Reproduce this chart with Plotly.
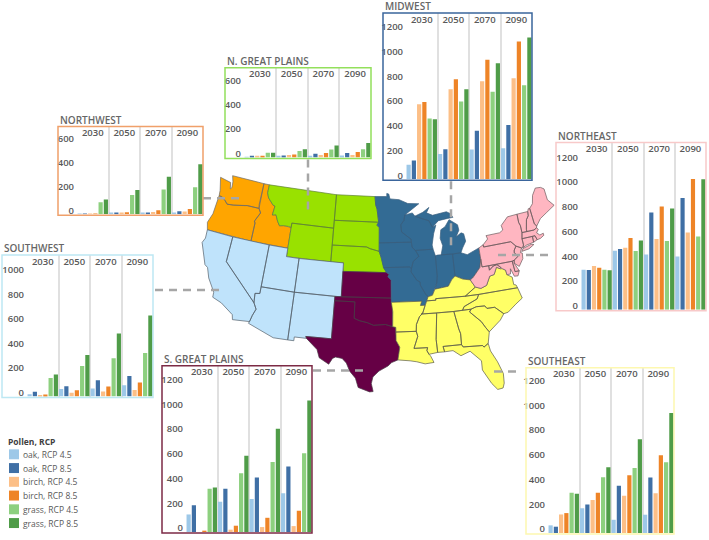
import math

import plotly.graph_objects as go

W, H = 709, 540

years = ["2030", "2050", "2070", "2090"]
series_names = ["oak, RCP 4.5", "oak, RCP 8.5", "birch, RCP 4.5", "birch, RCP 8.5", "grass, RCP 4.5", "grass, RCP 8.5"]
series_colors = ["#9dc8e8", "#3f6fa5", "#fcbf87", "#ee8427", "#8dd07f", "#4f9c48"]

# one row per series, one column per year
midwest = [[118, 204, 242, 252], [153, 244, 392, 440], [606, 727, 792, 816],
           [625, 808, 966, 1114], [491, 628, 708, 760], [486, 727, 939, 1146]]
n_great_plains = [[3, 11, 14, 16], [11, 16, 30, 36], [8, 19, 19, 19],
                  [11, 25, 36, 44], [38, 52, 66, 68], [38, 68, 99, 118]]
northwest = [[3, 6, 8, 11], [3, 8, 14, 25], [1, 14, 19, 22],
             [3, 17, 33, 44], [100, 161, 206, 225], [122, 203, 314, 417]]
southwest = [[19, 62, 65, 92], [38, 84, 133, 168], [8, 30, 41, 54],
             [16, 51, 81, 114], [152, 249, 312, 355], [179, 339, 515, 661]]
northeast = [[325, 478, 448, 432], [322, 491, 786, 904], [354, 502, 572, 625],
             [341, 580, 835, 1057], [325, 475, 556, 593], [319, 561, 819, 1055]]
s_great_plains = [[142, 244, 266, 314], [217, 349, 440, 529], [0, 19, 40, 48],
                  [8, 51, 115, 172], [349, 475, 566, 636], [360, 617, 835, 1063]]
southeast = [[62, 201, 107, 148], [51, 231, 381, 448], [150, 266, 301, 322],
             [161, 325, 467, 628], [325, 451, 526, 572], [317, 531, 757, 969]]

# title, values, frame colour, frame l/r/t/b, left edge of bars, px per unit, highest tick
panels = [
    ("MIDWEST", midwest, "#3a659c", 383, 532, 13, 181, 406, 0.1242, 1200),
    ("N. GREAT PLAINS", n_great_plains, "#93e05c", 225, 371, 68, 159, 244, 0.1217, 600),
    ("NORTHWEST", northwest, "#f0a06a", 58, 203, 127, 216, 77, 0.12, 600),
    ("SOUTHWEST", southwest, "#bde8f3", 2, 153, 256, 399, 27, 0.123, 1000),
    ("NORTHEAST", northeast, "#f8c9c9", 556, 706, 143, 312, 581, 0.1242, 1200),
    ("S. GREAT PLAINS", s_great_plains, "#7c2a45", 162, 312, 367, 535, 186, 0.1242, 1200),
    ("SOUTHEAST", southeast, "#fdf8b0", 526, 674, 369, 536, 548, 0.1242, 1200),
]

# dashed leader lines from panel to region
leaders = [
    ([308, 308], [160, 212]),
    ([203, 242], [199, 199]),
    ([155, 224], [291, 291]),
    ([313, 367], [372, 372]),
    ([451, 451], [182, 250]),
    ([498, 552], [256, 256]),
    ([494, 518], [373, 373]),
]

# state outlines, lon/lat
states = {
    "WA": [(-124.7, 48.4), (-123.1, 48.15), (-122.75, 48.15), (-122.5, 47.4), (-122.3, 47.6), (-122.4, 48.3), (-122.75, 49), (-117.03, 49), (-117.04, 46.42), (-116.92, 45.99), (-118.98, 46), (-119.3, 45.93), (-121.2, 45.65), (-122.3, 45.55), (-122.8, 45.9), (-123.4, 46.2), (-124, 46.27), (-124.1, 46.9)],
    "OR": [(-124, 46.27), (-123.4, 46.2), (-122.8, 45.9), (-122.3, 45.55), (-121.2, 45.65), (-119.3, 45.93), (-118.98, 46), (-116.92, 45.99), (-116.5, 45.5), (-117.2, 44.4), (-117.03, 44.2), (-117.03, 42), (-124.2, 42), (-124.55, 42.85), (-124.1, 44)],
    "ID": [(-117.03, 49), (-116.05, 49), (-116.05, 48), (-115.7, 47.45), (-114.7, 46.7), (-114.35, 46.65), (-114.5, 45.55), (-113.9, 45.65), (-113.45, 44.95), (-113, 44.45), (-112.3, 44.55), (-111.5, 44.55), (-111.05, 44.48), (-111.05, 42), (-117.03, 42), (-117.03, 44.2), (-117.2, 44.4), (-116.5, 45.5), (-116.92, 45.99), (-117.04, 46.42)],
    "MT": [(-116.05, 49), (-104.05, 49), (-104.05, 45), (-111.05, 45), (-111.05, 44.48), (-111.5, 44.55), (-112.3, 44.55), (-113, 44.45), (-113.45, 44.95), (-113.9, 45.65), (-114.5, 45.55), (-114.35, 46.65), (-114.7, 46.7), (-115.7, 47.45), (-116.05, 48)],
    "WY": [(-111.05, 45), (-104.05, 45), (-104.05, 41), (-111.05, 41)],
    "ND": [(-104.05, 49), (-97.23, 49), (-97.1, 48), (-96.85, 47.5), (-96.56, 45.94), (-104.05, 45.94)],
    "SD": [(-104.05, 45.94), (-96.56, 45.94), (-96.85, 45.6), (-96.45, 45.3), (-96.45, 43.5), (-96.45, 42.5), (-97.9, 42.8), (-98.5, 43), (-104.05, 43)],
    "NE": [(-104.05, 43), (-98.5, 43), (-97.9, 42.8), (-96.45, 42.5), (-96.1, 41.7), (-95.85, 41), (-95.3, 40), (-102.05, 40), (-102.05, 41), (-104.05, 41)],
    "NV": [(-120, 42), (-114.05, 42), (-114.05, 36.2), (-114.75, 36.1), (-114.63, 35), (-120, 39)],
    "CA": [(-124.2, 42), (-120, 42), (-120, 39), (-114.63, 35), (-114.15, 34.3), (-114.5, 33.5), (-114.72, 32.72), (-117.12, 32.53), (-117.3, 33.1), (-118.4, 33.75), (-119.2, 34.15), (-120.6, 34.55), (-120.65, 35.15), (-121.9, 36.6), (-122.5, 37.75), (-123, 38), (-123.8, 39.3), (-124.4, 40.4), (-124.1, 41)],
    "UT": [(-114.05, 42), (-111.05, 42), (-111.05, 41), (-109.05, 41), (-109.05, 37), (-114.05, 37)],
    "CO": [(-109.05, 41), (-102.05, 41), (-102.05, 37), (-109.05, 37)],
    "AZ": [(-114.05, 37), (-109.05, 37), (-109.05, 31.33), (-111.07, 31.33), (-114.82, 32.5), (-114.72, 32.72), (-114.5, 33.5), (-114.15, 34.3), (-114.63, 35), (-114.75, 36.1), (-114.05, 36.2)],
    "NM": [(-109.05, 37), (-103, 37), (-103.04, 32), (-106.62, 32), (-106.5, 31.78), (-108.2, 31.78), (-108.2, 31.33), (-109.05, 31.33)],
    "KS": [(-102.05, 40), (-95.3, 40), (-94.9, 39.8), (-95.1, 39.5), (-94.6, 39.1), (-94.62, 37), (-102.05, 37)],
    "OK": [(-103, 37), (-94.62, 37), (-94.43, 35.4), (-94.48, 33.64), (-95.5, 33.9), (-96.6, 33.85), (-97.2, 33.8), (-98.1, 34.1), (-99.2, 34.3), (-100, 34.56), (-100, 36.5), (-103, 36.5)],
    "TX": [(-103, 36.5), (-100, 36.5), (-100, 34.56), (-99.2, 34.3), (-98.1, 34.1), (-97.2, 33.8), (-96.6, 33.85), (-95.5, 33.9), (-94.48, 33.64), (-94.04, 33.55), (-94.04, 32), (-93.55, 31.2), (-93.7, 30.3), (-93.85, 29.7), (-94.7, 29.4), (-95.2, 29), (-96.4, 28.4), (-97.2, 27.7), (-97.4, 26.9), (-97.15, 25.95), (-97.6, 25.9), (-99.1, 26.4), (-99.5, 27.5), (-100.3, 28.3), (-100.8, 29.25), (-101.4, 29.77), (-102.3, 29.88), (-102.7, 29.7), (-103.15, 28.98), (-104.5, 29.65), (-104.9, 30.6), (-106.5, 31.78), (-106.62, 32), (-103.04, 32)],
    "MN": [(-97.23, 49), (-95.15, 49), (-95.15, 49.38), (-94.8, 49.3), (-94.6, 48.72), (-93, 48.6), (-91.5, 48.1), (-89.6, 48), (-92.1, 46.75), (-92.3, 46.1), (-92.85, 45.6), (-92.75, 44.75), (-91.25, 43.85), (-91.22, 43.5), (-96.45, 43.5), (-96.45, 45.3), (-96.85, 45.6), (-96.56, 45.94), (-96.85, 47.5), (-97.1, 48)],
    "WI": [(-92.1, 46.75), (-90.8, 46.95), (-90.4, 46.55), (-89.1, 46.15), (-88.1, 45.9), (-87.6, 45.1), (-87, 45.3), (-87.5, 44.3), (-87.9, 43), (-87.8, 42.5), (-90.64, 42.5), (-91.15, 42.9), (-91.22, 43.5), (-91.25, 43.85), (-92.75, 44.75), (-92.85, 45.6), (-92.3, 46.1)],
    "MI_U": [(-90.4, 46.55), (-89, 46.95), (-87.9, 47.47), (-88.4, 46.85), (-87.4, 46.5), (-85, 46.75), (-84.4, 46.5), (-84, 46), (-84.9, 45.95), (-86.5, 45.8), (-87.6, 45.1), (-88.1, 45.9), (-89.1, 46.15)],
    "MI_L": [(-86.6, 41.76), (-84.8, 41.7), (-83.45, 41.73), (-83.1, 42.25), (-82.45, 43), (-82.6, 43.9), (-83, 44.05), (-83.9, 43.65), (-83.3, 44.4), (-83.4, 45.05), (-84.7, 45.78), (-85.5, 45), (-86.25, 44.7), (-86.5, 43.7), (-86.2, 42.8)],
    "IA": [(-96.45, 43.5), (-91.22, 43.5), (-91.15, 42.9), (-90.64, 42.5), (-90.15, 41.8), (-91.1, 41.2), (-91.42, 40.38), (-91.73, 40.6), (-95.77, 40.58), (-95.85, 41), (-96.1, 41.7), (-96.45, 42.5)],
    "MO": [(-95.77, 40.58), (-91.73, 40.6), (-91.42, 40.38), (-91.5, 40), (-90.7, 39), (-90.2, 38.75), (-90.2, 38.4), (-89.5, 37.3), (-89.15, 36.98), (-89.4, 36.5), (-89.7, 36), (-90.37, 36), (-90.15, 36.5), (-94.62, 36.5), (-94.62, 37), (-94.6, 39.1), (-95.1, 39.5), (-94.9, 39.8), (-95.3, 40)],
    "IL": [(-90.64, 42.5), (-87.8, 42.5), (-87.53, 41.7), (-87.53, 39.3), (-87.7, 38.5), (-88.05, 37.8), (-88.5, 37.1), (-89.15, 36.98), (-89.5, 37.3), (-90.2, 38.4), (-90.2, 38.75), (-90.7, 39), (-91.5, 40), (-91.42, 40.38), (-91.1, 41.2), (-90.15, 41.8)],
    "IN": [(-87.53, 41.7), (-87.2, 41.76), (-84.8, 41.7), (-84.82, 39.1), (-85.4, 38.7), (-86, 38), (-87, 37.9), (-88.05, 37.8), (-87.7, 38.5), (-87.53, 39.3)],
    "OH": [(-84.8, 41.7), (-83.45, 41.73), (-82.5, 41.4), (-81.2, 41.75), (-80.52, 41.98), (-80.52, 40.64), (-80.85, 39.7), (-81.7, 39), (-82.2, 38.6), (-82.6, 38.42), (-83.7, 38.63), (-84.82, 39.1)],
    "AR": [(-94.62, 36.5), (-90.15, 36.5), (-90.37, 36), (-89.7, 36), (-90.1, 35.1), (-90.6, 34.7), (-91.1, 33.8), (-91.17, 33), (-94.04, 33), (-94.04, 33.55), (-94.48, 33.64), (-94.43, 35.4)],
    "LA": [(-94.04, 33), (-91.17, 33), (-91, 32.4), (-91.6, 31), (-89.73, 31), (-89.85, 30.65), (-89.6, 30.2), (-89.4, 30), (-89, 29.2), (-90.2, 29.1), (-91.3, 29.4), (-92.2, 29.55), (-93.85, 29.7), (-93.7, 30.3), (-93.55, 31.2), (-94.04, 32)],
    "MS": [(-90.3, 35), (-88.2, 35), (-88.1, 34.9), (-88.47, 31.9), (-88.4, 30.35), (-89.6, 30.2), (-89.85, 30.65), (-89.73, 31), (-91.6, 31), (-91, 32.4), (-91.17, 33), (-91.1, 33.8), (-90.6, 34.7), (-90.1, 35.1)],
    "AL": [(-88.2, 35), (-85.6, 34.98), (-85.18, 32.87), (-85, 32.3), (-85.05, 31), (-87.6, 31), (-87.45, 30.35), (-88.4, 30.35), (-88.47, 31.9), (-88.1, 34.9)],
    "GA": [(-85.6, 34.98), (-83.1, 35), (-83.35, 34.7), (-81.9, 33.4), (-81.4, 32.6), (-81, 32.05), (-81.4, 30.72), (-82.05, 30.36), (-82.2, 30.57), (-84.86, 30.7), (-85.05, 31), (-85, 32.3), (-85.18, 32.87)],
    "FL": [(-87.6, 31), (-85.05, 31), (-84.86, 30.7), (-82.2, 30.57), (-82.05, 30.36), (-81.4, 30.72), (-81.25, 29.8), (-80.55, 28.4), (-80.05, 26.9), (-80.15, 25.75), (-80.4, 25.2), (-81.1, 25.13), (-81.75, 25.95), (-82.7, 27.7), (-82.65, 28.8), (-83.4, 29.5), (-84, 30.1), (-85.3, 29.7), (-86.3, 30.4), (-87.45, 30.35)],
    "SC": [(-83.1, 35), (-82.3, 35.2), (-81.05, 35.15), (-80.8, 34.82), (-79.67, 34.8), (-78.55, 33.87), (-79.2, 33.2), (-80.4, 32.4), (-81, 32.05), (-81.4, 32.6), (-81.9, 33.4), (-83.35, 34.7)],
    "NC": [(-84.32, 35), (-83.1, 35), (-82.3, 35.2), (-81.05, 35.15), (-80.8, 34.82), (-79.67, 34.8), (-78.55, 33.87), (-77.9, 33.95), (-76.6, 34.7), (-75.5, 35.25), (-75.85, 36.55), (-81.68, 36.59), (-82, 36.1), (-83.5, 35.55), (-84.05, 35.4)],
    "TN": [(-90.1, 35.1), (-89.7, 36), (-89.4, 36.5), (-88.07, 36.5), (-88.05, 36.68), (-83.68, 36.6), (-81.68, 36.59), (-82, 36.1), (-83.5, 35.55), (-84.05, 35.4), (-84.32, 35), (-85.6, 34.98), (-88.2, 35), (-90.3, 35)],
    "KY": [(-89.4, 36.5), (-89.15, 36.98), (-88.5, 37.1), (-88.05, 37.8), (-87, 37.9), (-86, 38), (-85.4, 38.7), (-84.82, 39.1), (-83.7, 38.63), (-82.6, 38.42), (-82, 37.5), (-83.68, 36.6), (-88.05, 36.68), (-88.07, 36.5)],
    "VA": [(-83.68, 36.6), (-81.68, 36.59), (-75.85, 36.55), (-75.98, 36.9), (-76.3, 37), (-76.3, 37.9), (-77, 38.3), (-77.05, 38.84), (-77.5, 39.1), (-77.83, 39.13), (-78.35, 39.4), (-78.9, 38.6), (-79.6, 38.5), (-80.3, 37.5), (-81.2, 37.25), (-82, 37.5)],
    "WV": [(-82.6, 38.42), (-82.2, 38.6), (-81.7, 39), (-80.85, 39.7), (-80.52, 40.64), (-80.52, 39.72), (-79.48, 39.72), (-79.48, 39.2), (-78.8, 39.6), (-78.2, 39.68), (-77.72, 39.32), (-77.83, 39.13), (-78.35, 39.4), (-78.9, 38.6), (-79.6, 38.5), (-80.3, 37.5), (-81.2, 37.25), (-82, 37.5)],
    "MD": [(-79.48, 39.72), (-75.79, 39.72), (-75.7, 38.46), (-75.05, 38.45), (-75.4, 37.9), (-75.95, 37.95), (-76.3, 38.9), (-76.45, 38.3), (-77, 38.3), (-77.05, 38.84), (-77.5, 39.1), (-77.72, 39.32), (-78.2, 39.68), (-78.8, 39.6), (-79.48, 39.2)],
    "DE": [(-75.79, 39.72), (-75.45, 39.8), (-75.55, 39.45), (-75.05, 38.45), (-75.7, 38.46)],
    "PA": [(-80.52, 41.98), (-79.76, 42.27), (-79.76, 42), (-75.35, 42), (-74.7, 41.36), (-75.1, 40.95), (-75.2, 40.65), (-74.72, 40.15), (-75.45, 39.8), (-75.79, 39.72), (-80.52, 39.72)],
    "NJ": [(-74.7, 41.36), (-73.9, 41), (-74.25, 40.5), (-73.98, 40.4), (-74.1, 39.75), (-74.9, 38.95), (-75.55, 39.45), (-75.45, 39.8), (-74.72, 40.15), (-75.2, 40.65), (-75.1, 40.95)],
    "NY": [(-79.76, 42.27), (-78.9, 42.85), (-79.05, 43.27), (-76.8, 43.3), (-76.2, 43.55), (-76.3, 44.1), (-75, 44.95), (-73.35, 45), (-73.4, 44), (-73.25, 43.6), (-73.27, 42.75), (-73.5, 42.05), (-73.5, 41.3), (-73.7, 41), (-73.9, 41), (-74.7, 41.36), (-75.35, 42), (-79.76, 42)],
    "NY_LI": [(-74, 40.6), (-73.7, 40.9), (-72.3, 41.15), (-71.9, 41.05), (-72.8, 40.7)],
    "CT": [(-73.5, 42.05), (-71.8, 42.02), (-71.85, 41.32), (-73, 41.2), (-73.7, 41), (-73.5, 41.3)],
    "RI": [(-71.8, 42.02), (-71.38, 42.02), (-71.2, 41.5), (-71.85, 41.32)],
    "MA": [(-73.5, 42.05), (-73.27, 42.75), (-71.3, 42.7), (-70.8, 42.87), (-70.6, 42.65), (-71, 42.3), (-70.6, 41.95), (-70, 42.05), (-70, 41.8), (-70.65, 41.55), (-71.2, 41.5), (-71.38, 42.02), (-71.8, 42.02)],
    "VT": [(-73.35, 45), (-71.5, 45), (-71.6, 44.5), (-72.05, 44.1), (-72.45, 43), (-72.46, 42.73), (-73.27, 42.75), (-73.25, 43.6), (-73.4, 44)],
    "NH": [(-71.5, 45), (-71.3, 45.3), (-71.05, 45.3), (-70.98, 43.4), (-70.7, 43.07), (-70.8, 42.87), (-71.3, 42.7), (-72.46, 42.73), (-72.45, 43), (-72.05, 44.1), (-71.6, 44.5)],
    "ME": [(-71.05, 45.3), (-70.4, 45.75), (-70, 46.7), (-69.2, 47.45), (-68.3, 47.35), (-67.8, 47.05), (-67.8, 45.7), (-67, 44.85), (-68.5, 44.3), (-69.8, 43.8), (-70.7, 43.07), (-70.98, 43.4)],
}

regions = [
    (["WA", "OR", "ID"], "#ffa500", "#6b6b6b"),
    (["MT", "WY", "ND", "SD", "NE"], "#99e100", "#5f7f3a"),
    (["CA", "NV", "UT", "CO", "AZ", "NM"], "#bfe3fb", "#55606a"),
    (["KS", "OK", "TX"], "#660045", "#4a3a46"),
    (["MN", "WI", "MI_U", "MI_L", "IA", "MO", "IL", "IN", "OH"], "#336b94", "#3a5f7e"),
    (["AR", "LA", "MS", "AL", "GA", "FL", "SC", "NC", "TN", "KY", "VA"], "#ffff66", "#5c5c4a"),
    (["WV", "MD", "DE", "PA", "NJ", "NY", "NY_LI", "CT", "RI", "MA", "VT", "NH", "ME"], "#ffb6c1", "#6b5a5d"),
]


def albers(lon, lat):
    # conic projection, then scaled onto the page
    p1, p2, p0, l0 = map(math.radians, (29.5, 45.5, 37.5, -96))
    n = (math.sin(p1) + math.sin(p2)) / 2
    c = math.cos(p1) ** 2 + 2 * n * math.sin(p1)
    rho = math.sqrt(c - 2 * n * math.sin(math.radians(lat))) / n
    rho0 = math.sqrt(c - 2 * n * math.sin(p0)) / n
    theta = n * (math.radians(lon) - l0)
    x = rho * math.sin(theta)
    y = rho0 - rho * math.cos(theta)
    return 382 + 488 * x, 295 - 485 * y


fig = go.Figure()

for names, fill, edge in regions:
    xs, ys = [], []
    for name in names:
        pts = [albers(*p) for p in states[name]]
        pts.append(pts[0])
        xs += [p[0] for p in pts] + [None]
        ys += [p[1] for p in pts] + [None]
    fig.add_trace(go.Scatter(x=xs, y=ys, mode="lines", fill="toself", fillcolor=fill,
                             line={"color": edge, "width": 0.7}, hoverinfo="skip", showlegend=False))

for lx, ly in leaders:
    fig.add_trace(go.Scatter(x=lx, y=ly, mode="lines", line={"color": "#a6a6a6", "width": 2.5, "dash": "8px,6px"},
                             hoverinfo="skip", showlegend=False))

layout = {
    "width": W, "height": H, "margin": {"l": 0, "r": 0, "t": 0, "b": 0},
    "paper_bgcolor": "white", "plot_bgcolor": "rgba(0,0,0,0)", "showlegend": False,
    "barmode": "group", "bargap": 0, "bargroupgap": 0.2,
    "font": {"family": "Open Sans", "color": "#595959"},
    "xaxis": {"range": [0, W], "domain": [0, 1], "visible": False, "fixedrange": True},
    "yaxis": {"range": [H, 0], "domain": [0, 1], "visible": False, "fixedrange": True},
}
shapes, annotations = [], []
tick_font = {"family": "Open Sans", "size": 9.5, "color": "#595959", "weight": 600}

for i, (title, values, color, left, right, top, bottom, bars_left, scale, max_tick) in enumerate(panels, start=2):
    base = bottom - 1
    for name, col, row in zip(series_names, series_colors, values):
        fig.add_trace(go.Bar(x=years, y=row, name=name, marker={"color": col, "line": {"width": 0}},
                             xaxis=f"x{i}", yaxis=f"y{i}", showlegend=False))
    layout[f"xaxis{i}"] = {
        "domain": [bars_left / W, right / W], "anchor": f"y{i}", "type": "category", "side": "top",
        "ticklabelposition": "inside", "tickson": "boundaries", "showgrid": True, "gridcolor": "#e0e0e0",
        "gridwidth": 1.5, "ticks": "", "tickfont": tick_font, "showline": False, "zeroline": False,
        "fixedrange": True,
    }
    layout[f"yaxis{i}"] = {
        "domain": [1 - base / H, 1 - top / H], "anchor": f"x{i}", "range": [0, (base - top) / scale],
        "tickvals": list(range(0, max_tick + 1, 200)), "showgrid": False, "zeroline": False, "showline": False,
        "ticks": "", "tickfont": tick_font, "ticklabelstandoff": 2, "ticklabelshift": -4, "fixedrange": True,
    }
    shapes.append({"type": "rect", "xref": "x", "yref": "y", "x0": left, "x1": right, "y0": top, "y1": bottom,
                   "line": {"color": color, "width": 1.5}, "layer": "above"})
    annotations.append({"text": title, "xref": "x", "yref": "y", "x": left, "y": top - 7, "showarrow": False,
                        "xanchor": "left", "yanchor": "middle",
                        "font": {"family": "Open Sans", "size": 10, "color": "#666666", "weight": 600}})

# legend block, lower left
annotations.append({"text": "Pollen, RCP", "xref": "x", "yref": "y", "x": 6, "y": 443, "showarrow": False,
                    "xanchor": "left", "yanchor": "middle",
                    "font": {"family": "Open Sans", "size": 8.5, "color": "#404040", "weight": 700}})
for k, (name, col) in enumerate(zip(series_names, series_colors)):
    yc = 456 + k * 13.8
    shapes.append({"type": "rect", "xref": "x", "yref": "y", "x0": 9, "x1": 19, "y0": yc - 5, "y1": yc + 5,
                   "fillcolor": col, "line": {"width": 0}, "layer": "above"})
    annotations.append({"text": name, "xref": "x", "yref": "y", "x": 21, "y": yc, "showarrow": False,
                        "xanchor": "left", "yanchor": "middle",
                        "font": {"family": "Open Sans", "size": 8.5, "color": "#595959"}})

layout["shapes"] = shapes
layout["annotations"] = annotations
fig.update_layout(**layout)
# the page's default 8px body margin would push everything off the 709x540 window
fig.write_html("out.html", config={"displayModeBar": False},
               post_script="document.body.style.margin='0';window.dispatchEvent(new Event('resize'));")
